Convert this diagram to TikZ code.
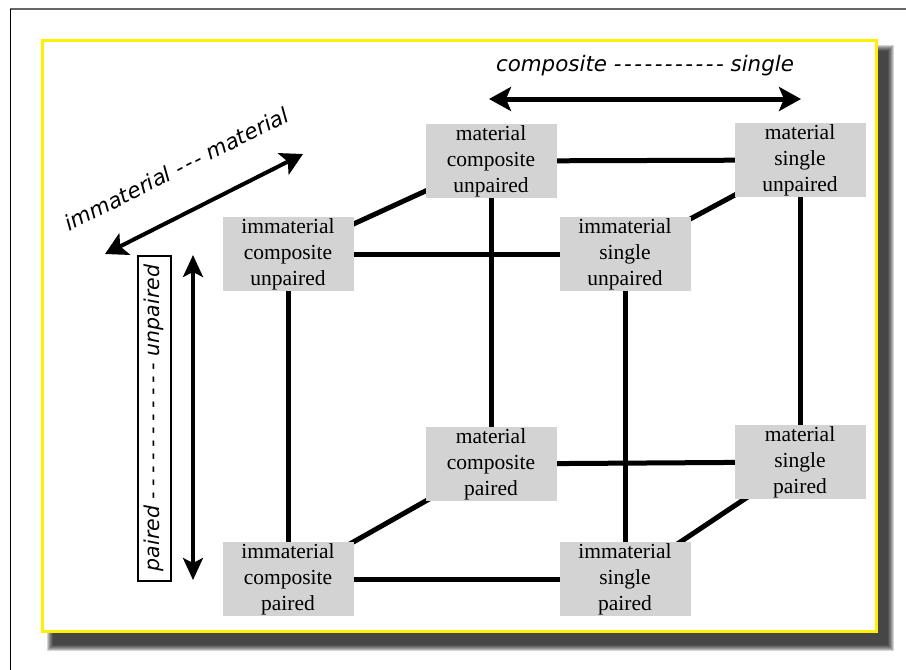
\documentclass[tikz,border=0pt]{standalone}
\usepackage{fontspec}
\setmainfont{Liberation Serif}
\newfontfamily\lblfont{DejaVu Sans}
\usetikzlibrary{arrows.meta}
\pgfdeclarelayer{framelayer}
\pgfdeclarelayer{edgelayer}
\pgfsetlayers{framelayer,edgelayer,main}
\definecolor{boxgray}{RGB}{211,211,211}
\definecolor{frameyellow}{RGB}{255,240,0}
\newcommand\dashrun[2]{\foreach \i in {2,...,#1}{-\kern#2}-}
\tikzset{
  cube/.style={fill=boxgray, minimum width=131pt, minimum height=74pt, inner sep=0pt,
    align=center, font=\fontsize{21.5}{26}\selectfont},
  edge/.style={line width=5pt, black},
  lbl/.style={inner sep=0pt, font=\lblfont\itshape\fontsize{21.4}{24}\selectfont},
  dblarrow/.style={line width=#1, {Stealth[length=22pt,width=24pt,inset=5pt]}-{Stealth[length=22pt,width=24pt,inset=5pt]}},
}
\begin{document}
\begin{tikzpicture}[x=1pt,y=-1pt]
\useasboundingbox (0,0) rectangle (906,670);
\begin{pgfonlayer}{framelayer}
  \draw[black!60, line width=1.5pt] (10,9) -- (906,9);
  \draw[black, line width=1pt] (10.5,9) -- (10.5,670);
  \foreach \k in {0,...,6}
    \fill[black, opacity=0.17] (47+\k,45+\k) rectangle (894-\k,651-\k);
  \fill[white] (42,40) rectangle (878,632);
  \draw[frameyellow, line width=3.5pt] (42.5,40.5) rectangle (876.5,631.5);
\end{pgfonlayer}

% cube nodes
\node[cube] (mcu) at (491,161) {material\\composite\\unpaired};
\node[cube] (msu) at (800,160) {material\\single\\unpaired};
\node[cube] (icu) at (288,254) {immaterial\\composite\\unpaired};
\node[cube] (isu) at (625,254) {immaterial\\single\\unpaired};
\node[cube] (mcp) at (491,464) {material\\composite\\paired};
\node[cube] (msp) at (800,462) {material\\single\\paired};
\node[cube] (icp) at (288,579) {immaterial\\composite\\paired};
\node[cube] (isp) at (625,579) {immaterial\\single\\paired};

\begin{pgfonlayer}{edgelayer}
  \draw[edge] (icu.center) -- (isu.center);
  \draw[edge] (icu.center) -- (icp.center);
  \draw[edge] (isu.center) -- (isp.center);
  \draw[edge] (icp.center) -- (isp.center);
  \draw[edge] (mcu.center) -- (msu.center);
  \draw[edge] (mcu.center) -- (mcp.center);
  \draw[edge] (msu.center) -- (msp.center);
  \draw[edge] (mcp.center) -- (msp.center);
  \draw[edge] (icu.center) -- (mcu.center);
  \draw[edge] (isu.center) -- (msu.center);
  \draw[edge] (icp.center) -- (mcp.center);
  \draw[edge] (isp.center) -- (msp.center);
\end{pgfonlayer}

% axis labels and arrows
\node[lbl, anchor=base] (cs) at (645,71) {composite \dashrun{11}{2.5pt} single};
\coordinate (csL) at (489,99);
\coordinate (csR) at (801,99);
\draw[dblarrow=5pt] (csL) -- (csR);

\node[lbl, rotate=26.7, anchor=base] (im) at (180,176) {immaterial \dashrun{3}{2.5pt} material};
\coordinate (imL) at (105,254);
\coordinate (imR) at (303,154);
\draw[dblarrow=4pt] (imL) -- (imR);

\node[draw, line width=2pt, rotate=90, minimum width=325pt, minimum height=33pt, inner sep=0pt,
  font=\lblfont\itshape\fontsize{20.5}{24}\selectfont] (pu) at (154,418)
  {paired \dashrun{11}{5.5pt} unpaired};
\coordinate (puB) at (193,580);
\coordinate (puT) at (193,255);
\draw[line width=3.5pt, {Stealth[length=22pt,width=20pt,inset=5pt]}-{Stealth[length=22pt,width=20pt,inset=5pt]}] (puB) -- (puT);
\end{tikzpicture}
\end{document}
